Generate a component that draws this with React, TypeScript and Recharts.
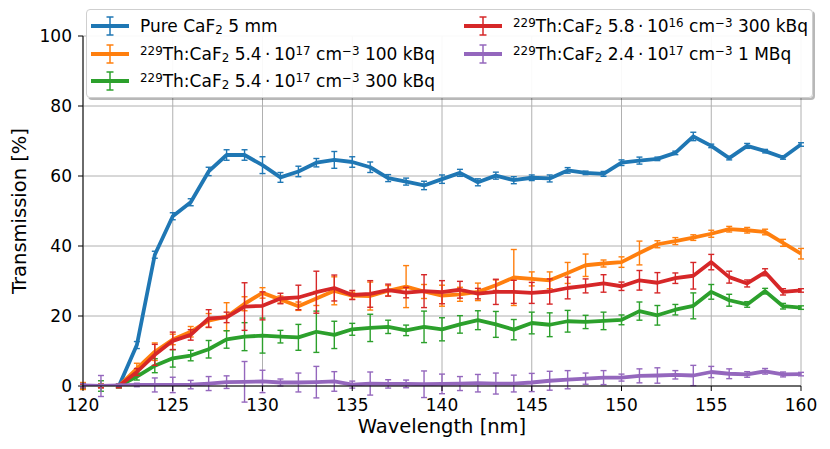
import React from "react";
import {
  ComposedChart,
  Line,
  XAxis,
  YAxis,
  CartesianGrid,
  ErrorBar,
  Legend,
} from "recharts";

// wavelength grid [nm]
const wavelengths = [
  120, 121, 122, 123, 124, 125, 126, 127, 128, 129,
  130, 131, 132, 133, 134, 135, 136, 137, 138, 139,
  140, 141, 142, 143, 144, 145, 146, 147, 148, 149,
  150, 151, 152, 153, 154, 155, 156, 157, 158, 159,
  160,
];

// transmission [%] and uncertainties
const pureCaF2 = [
  0, 0, 0, 11.7, 37.5, 48.5, 52.5, 61.3, 66, 66,
  63.1, 59.6, 61.3, 63.8, 64.6, 64, 62.5, 59.4, 58.4, 57.3,
  59.1, 60.9, 58.2, 60.1, 58.8, 59.5, 59.3, 61.6, 60.9, 60.6,
  63.8, 64.4, 64.9, 66.6, 71.3, 68.6, 65.1, 68.6, 67.1, 65.3,
  69.0,
];
const pureCaF2Err = [
  0.5, 0.5, 0.5, 1, 1, 1, 1, 1.2, 1.5, 1.5,
  2.4, 1.4, 1.5, 1.2, 2.4, 1.5, 1.5, 1, 1, 1.2,
  1.2, 1, 1, 1, 1, 0.8, 1, 0.8, 0.5, 0.7,
  0.8, 1, 0.5, 0.5, 1.2, 0.5, 0.5, 0.7, 0.5, 0.5,
  0.5,
];

const th100kBq = [
  0, 0, 0, 5, 9.8, 13.3, 15.5, 18.7, 19.8, 23.5,
  26.6, 24.7, 22.8, 25, 27.2, 25.8, 25.7, 27.2, 28.4, 27,
  25.8, 26.2, 26.9, 28.8, 31.0, 30.6, 30.2, 32.3, 34.5, 35.0,
  35.4, 38.0, 40.5, 41.4, 42.4, 43.5, 44.8, 44.5, 44.0, 40.9,
  37.8,
];
const th100kBqErr = [
  1, 0.5, 0.5, 1.5, 2.5, 1.5, 1.5, 2, 4, 2,
  1.5, 1, 1.2, 2, 4, 1, 4, 1.5, 6, 2,
  3, 2, 2.5, 1.5, 8, 2, 2.4, 3, 3.2, 1,
  1.5, 3.4, 1, 1, 0.8, 1, 0.8, 0.8, 0.8, 1,
  1.5,
];

const th300kBq = [
  0, 0, 0, 2.7, 5.8, 7.9, 8.7, 10.5, 13.3, 14.1,
  14.4, 14.1, 13.9, 15.5, 14.6, 16.2, 16.6, 16.9, 15.9, 16.9,
  16.2, 17.6, 18.8, 17.6, 16.1, 18.0, 17.5, 18.5, 18.3, 18.6,
  18.9, 21.4, 20.2, 21.8, 22.9, 26.9, 24.5, 23.3, 27.1, 22.8,
  22.4,
];
const th300kBqErr = [
  0.5, 1.5, 0.5, 1, 2, 2.5, 1.5, 2.5, 2.5, 4,
  5, 1.8, 3.7, 5.9, 3.9, 1.7, 3.9, 1.9, 1.5, 4.5,
  3.3, 2.5, 2.7, 3.7, 2.9, 3.1, 3.4, 3.1, 1.9, 2.5,
  1.4, 2.6, 2.8, 1.5, 3.7, 2.1, 1.7, 0.8, 0.8, 0.8,
  0.5,
];

const thLow300kBq = [
  0, 0, 0, 4, 8.9, 12.9, 14.6, 19.3, 19.6, 22.7,
  22.9, 25.0, 25.3, 26.8, 28, 26, 26.3, 27.4, 26.7, 27.1,
  26.8, 27.5, 26.4, 26.9, 26.9, 26.6, 27.0, 28.0, 28.6, 29.3,
  28.5, 30.2, 29.5, 30.8, 31.5, 35.4, 31.1, 29.3, 32.5, 26.9,
  27.3,
];
const thLow300kBqErr = [
  0.5, 0.5, 0.5, 1, 3, 2.5, 1.5, 2.5, 1.5, 6.8,
  4, 1.5, 3.5, 6, 3.7, 1.3, 3.8, 1.7, 1.5, 4.7,
  3.3, 2.4, 1.5, 3.6, 3.3, 3, 3.6, 3.1, 2, 2.5,
  1.2, 2.8, 2.9, 1.5, 3.8, 2.2, 1.7, 1, 1, 0.9,
  0.5,
];

const th1MBq = [
  0.2, 0, 0.2, 0.3, 0.3, 0.3, 0.4, 0.7, 1.1, 1.2,
  1.3, 1.0, 1.0, 1.1, 1.3, 0.4, 0.7, 0.6, 0.6, 0.5,
  0.6, 0.7, 0.8, 0.7, 0.7, 1.0, 1.5, 1.8, 2.1, 2.4,
  2.4, 2.9, 3.0, 3.2, 3.0, 4.0, 3.5, 3.3, 4.2, 3.3,
  3.4,
];
const th1MBqErr = [
  0.5, 3, 0.3, 0.5, 2, 2.2, 1.2, 2, 1.8, 5.8,
  3.2, 1, 2.7, 4.5, 2.8, 1, 3.3, 1.2, 1.1, 3.8,
  2.8, 2, 2.5, 3, 2.4, 2.6, 2.7, 2.6, 1.6, 2,
  1, 2, 2.2, 1.2, 2.9, 1.6, 1.4, 0.8, 0.8, 0.7,
  0.5,
];

const xTicks = [120, 125, 130, 135, 140, 145, 150, 155, 160];
const xMinorTicks = [
  120, 121, 122, 123, 124, 125, 126, 127, 128, 129,
  130, 131, 132, 133, 134, 135, 136, 137, 138, 139,
  140, 141, 142, 143, 144, 145, 146, 147, 148, 149,
  150, 151, 152, 153, 154, 155, 156, 157, 158, 159,
  160,
];
const yTicks = [0, 20, 40, 60, 80, 100];
const yMinorTicks = [
  0, 5, 10, 15, 20, 25, 30, 35, 40, 45, 50,
  55, 60, 65, 70, 75, 80, 85, 90, 95, 100,
];

const data = wavelengths.map((w, i) => ({
  wavelength: w,
  pure: pureCaF2[i],
  pureErr: pureCaF2Err[i],
  th100: th100kBq[i],
  th100Err: th100kBqErr[i],
  th300: th300kBq[i],
  th300Err: th300kBqErr[i],
  thLow: thLow300kBq[i],
  thLowErr: thLow300kBqErr[i],
  th1M: th1MBq[i],
  th1MErr: th1MBqErr[i],
}));

const sup = (t: string) => (
  <sup style={{ fontSize: "0.7em", verticalAlign: "0.45em", lineHeight: 0 }}>{t}</sup>
);
const sub = (t: string) => (
  <sub style={{ fontSize: "0.7em", verticalAlign: "-0.2em", lineHeight: 0 }}>{t}</sub>
);
const thLabel = (conc: string, exp: string, act: string) => (
  <>
    {sup("229")}Th:CaF{sub("2")} {conc}{"\u2009·\u2009"}10{sup(exp)} cm{sup("\u22123")} {act}
  </>
);

const series = [
  { key: "pure", err: "pureErr", color: "#1f77b4", name: "Pure CaF2 5 mm",
    label: <>Pure CaF{sub("2")} 5 mm</> },
  { key: "th100", err: "th100Err", color: "#ff7f0e", name: "229Th:CaF2 5.4e17 100 kBq",
    label: thLabel("5.4", "17", "100 kBq") },
  { key: "th300", err: "th300Err", color: "#2ca02c", name: "229Th:CaF2 5.4e17 300 kBq",
    label: thLabel("5.4", "17", "300 kBq") },
  { key: "thLow", err: "thLowErr", color: "#d62728", name: "229Th:CaF2 5.8e16 300 kBq",
    label: thLabel("5.8", "16", "300 kBq") },
  { key: "th1M", err: "th1MErr", color: "#9467bd", name: "229Th:CaF2 2.4e17 1 MBq",
    label: thLabel("2.4", "17", "1 MBq") },
];

const LegendHandle = ({ color }: { color: string }) => (
  <svg width={38} height={22} style={{ display: "block" }}>
    <line x1={0} y1={11} x2={38} y2={11} stroke={color} strokeWidth={4} />
    <line x1={19} y1={2} x2={19} y2={20} stroke={color} strokeWidth={1.5} />
    <line x1={15.5} y1={2} x2={22.5} y2={2} stroke={color} strokeWidth={1.5} />
    <line x1={15.5} y1={20} x2={22.5} y2={20} stroke={color} strokeWidth={1.5} />
  </svg>
);

const renderLegend = () => (
  <div
    style={{
      position: "relative",
      width: 727,
      height: 89,
      boxSizing: "border-box",
      background: "rgba(255,255,255,0.92)",
      border: "1px solid #cfcfcf",
      borderRadius: 4,
      boxShadow: "2px 2px 0 rgba(0,0,0,0.28)",
      fontSize: 17,
      color: "#000",
    }}
  >
    {series.map((s, i) => {
      const col = i < 3 ? 0 : 1;
      const row = i < 3 ? i : i - 3;
      const cy = 16 + row * 27.5;
      return (
        <div key={s.key}>
          <div style={{ position: "absolute", left: col === 0 ? 4 : 377, top: cy - 11 }}>
            <LegendHandle color={s.color} />
          </div>
          <div
            style={{
              position: "absolute",
              left: col === 0 ? 53 : 426,
              top: cy - 13,
              height: 26,
              display: "flex",
              alignItems: "center",
              whiteSpace: "nowrap",
            }}
          >
            <span>{s.label}</span>
          </div>
        </div>
      );
    })}
  </div>
);

const TransmissionChart = () => (
  <div style={{ position: "absolute", left: 0, top: 0, fontFamily: "DejaVu Sans" }}>
    <ComposedChart
      width={830}
      height={449}
      data={data}
      margin={{ top: 36, right: 29, bottom: 0, left: 0 }}
    >
      <CartesianGrid stroke="#b0b0b0" strokeWidth={1} />
      <XAxis
        dataKey="wavelength"
        type="number"
        domain={[120, 160]}
        ticks={xTicks}
        interval={0}
        allowDataOverflow
        height={63}
        tickSize={5}
        tickMargin={8}
        stroke="#000"
        tick={{ fill: "#000", fontSize: 17 }}
        label={{
          value: "Wavelength [nm]",
          position: "insideBottom",
          offset: 16,
          style: { fontSize: 19.5, fill: "#000" },
        }}
      />
      <XAxis
        xAxisId="minor"
        dataKey="wavelength"
        type="number"
        domain={[120, 160]}
        ticks={xMinorTicks}
        interval={0}
        height={0}
        tickSize={3}
        tick={false}
        axisLine={false}
        stroke="#000"
      />
      <XAxis
        xAxisId="top"
        orientation="top"
        type="number"
        domain={[120, 160]}
        height={0}
        tick={false}
        tickLine={false}
        stroke="#000"
      />
      <YAxis
        type="number"
        domain={[0, 100]}
        ticks={yTicks}
        interval={0}
        allowDataOverflow
        width={83}
        tickSize={5}
        tickMargin={6}
        stroke="#000"
        tick={{ fill: "#000", fontSize: 17 }}
        label={{
          value: "Transmission [%]",
          angle: -90,
          position: "insideLeft",
          offset: 19,
          style: { fontSize: 19.5, fill: "#000", textAnchor: "middle" },
        }}
      />
      <YAxis
        yAxisId="minor"
        type="number"
        domain={[0, 100]}
        ticks={yMinorTicks}
        interval={0}
        width={0}
        tickSize={3}
        tick={false}
        axisLine={false}
        stroke="#000"
      />
      <YAxis
        yAxisId="right"
        orientation="right"
        type="number"
        domain={[0, 100]}
        width={0}
        tick={false}
        tickLine={false}
        stroke="#000"
      />
      {series.map((s) => (
        <Line
          key={s.key}
          dataKey={s.key}
          name={s.name}
          type="linear"
          stroke={s.color}
          strokeWidth={3.8}
          strokeLinejoin="round"
          dot={false}
          activeDot={false}
          isAnimationActive={false}
        >
          <ErrorBar
            dataKey={s.err}
            direction="y"
            width={3}
            stroke={s.color}
            strokeWidth={1.4}
            isAnimationActive={false}
          />
        </Line>
      ))}
      <Legend
        layout="vertical"
        align="center"
        verticalAlign="middle"
        wrapperStyle={{ top: 9, left: 86, width: 727, height: 89 }}
        content={renderLegend}
      />
    </ComposedChart>
  </div>
);

export default function App() {
  return <TransmissionChart />;
}
